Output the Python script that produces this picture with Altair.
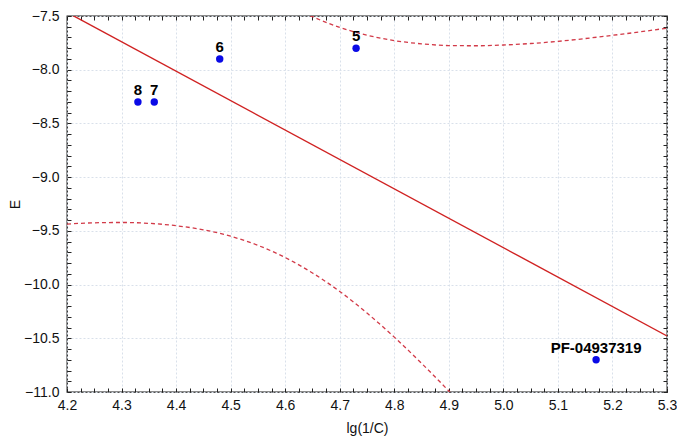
import altair as alt
import pandas as pd

# ---- data ----
pt_x = [4.33, 4.36, 4.48, 4.73, 5.17]
pt_y = [-8.30, -8.30, -7.90, -7.80, -10.70]
pt_label = ["8", "7", "6", "5", "PF-04937319"]

fit_x = [4.20, 5.30]
fit_y = [-7.466, -10.478]

lower_x = [4.20, 4.25, 4.30, 4.35, 4.40, 4.45, 4.50, 4.55, 4.60, 4.65,
           4.70, 4.75, 4.80, 4.85, 4.90, 4.95]
lower_y = [-9.437, -9.425, -9.422, -9.430, -9.452, -9.490, -9.550, -9.635,
           -9.748, -9.892, -10.064, -10.265, -10.489, -10.733, -10.991, -11.263]

upper_x = [4.60, 4.65, 4.70, 4.75, 4.80, 4.85, 4.90, 4.95, 5.00, 5.05,
           5.10, 5.15, 5.20, 5.25, 5.30]
upper_y = [-7.376, -7.506, -7.606, -7.679, -7.729, -7.759, -7.775, -7.777,
           -7.770, -7.756, -7.736, -7.710, -7.680, -7.648, -7.613]

X_DOMAIN = [4.2, 5.3]
Y_DOMAIN = [-11.0, -7.5]
x_ticks = [round(4.2 + 0.025 * i, 3) for i in range(45)]
y_ticks = [round(-11.0 + 0.1 * i, 2) for i in range(36)]

pts = pd.DataFrame({"x": pt_x, "y": pt_y, "label": pt_label})
fit = pd.DataFrame({"x": fit_x, "y": fit_y})
bands = pd.concat([
    pd.DataFrame({"x": lower_x, "y": lower_y, "band": "lower"}),
    pd.DataFrame({"x": upper_x, "y": upper_y, "band": "upper"}),
])

xs = alt.Scale(domain=X_DOMAIN, nice=False, zero=False)
ys = alt.Scale(domain=Y_DOMAIN, nice=False, zero=False)

x_major = "abs(datum.value*10-round(datum.value*10))<0.001"
y_major = "abs(datum.value*2-round(datum.value*2))<0.001"

FONT = "Liberation Sans"
TICK = 4

x_bottom = alt.Axis(
    orient="bottom", values=x_ticks, title="lg(1/C)",
    labelExpr=f"{x_major} ? format(datum.value, '.1f') : ''",
    labelOverlap=False, labelFlush=False,
    tickSize=TICK, offset=-TICK, domain=False, labelPadding=6,
    grid=True,
    gridOpacity={"condition": {"test": x_major, "value": 1}, "value": 0},
    titlePadding=9,
)
y_left = alt.Axis(
    orient="left", values=y_ticks, title="E",
    labelExpr=f"{y_major} ? format(datum.value, '.1f') : ''",
    labelOverlap=False, labelFlush=False,
    tickSize=TICK, offset=-TICK, domain=False, labelPadding=8,
    grid=True,
    gridOpacity={"condition": {"test": y_major, "value": 1}, "value": 0},
    titlePadding=1,
)
x_top = alt.Axis(orient="top", values=x_ticks, labels=False, title=None,
                 tickSize=TICK, offset=-TICK, domain=False, grid=False)
y_right = alt.Axis(orient="right", values=y_ticks, labels=False, title=None,
                   tickSize=TICK, offset=-TICK, domain=False, grid=False)

band_layer = alt.Chart(bands).mark_line(
    color="#d23a48", strokeWidth=1.3, strokeDash=[4, 3], clip=True,
    interpolate="monotone"
).encode(
    x=alt.X("x:Q", scale=xs, axis=None),
    y=alt.Y("y:Q", scale=ys, axis=None),
    detail="band:N",
)

fit_layer = alt.Chart(fit).mark_line(
    color="#d02222", strokeWidth=1.4, clip=True
).encode(
    x=alt.X("x:Q", scale=xs, axis=x_bottom),
    y=alt.Y("y:Q", scale=ys, axis=y_left),
)

pt_layer = alt.Chart(pts).mark_circle(
    size=55, color="#0a0ae6", opacity=1
).encode(
    x=alt.X("x:Q", scale=xs, axis=x_top),
    y=alt.Y("y:Q", scale=ys, axis=y_right),
)

txt_layer = alt.Chart(pts).mark_text(
    font=FONT, fontSize=15, fontWeight="bold", color="#000",
    dy=-7, baseline="alphabetic", align="center"
).encode(
    x=alt.X("x:Q", scale=xs, axis=None),
    y=alt.Y("y:Q", scale=ys, axis=None),
    text="label:N",
)

chart = alt.layer(band_layer, fit_layer, pt_layer, txt_layer).resolve_axis(
    x="independent", y="independent"
).properties(
    width=600, height=376,
    autosize=alt.AutoSizeParams(type="none"),
    padding={"left": 59, "top": 8, "right": 10, "bottom": 46},
    background="white",
).configure_view(
    stroke="#1a1a1a", strokeWidth=1.3
).configure_axis(
    labelFont=FONT, labelFontSize=14, labelColor="#111",
    titleFont=FONT, titleFontSize=14, titleFontWeight="normal", titleColor="#111",
    tickColor="#222", tickWidth=1,
    gridColor="#d9e0ea", gridDash=[2, 2], gridWidth=1,
)

chart.save("out.html", embed_options={"renderer": "svg", "actions": False})
